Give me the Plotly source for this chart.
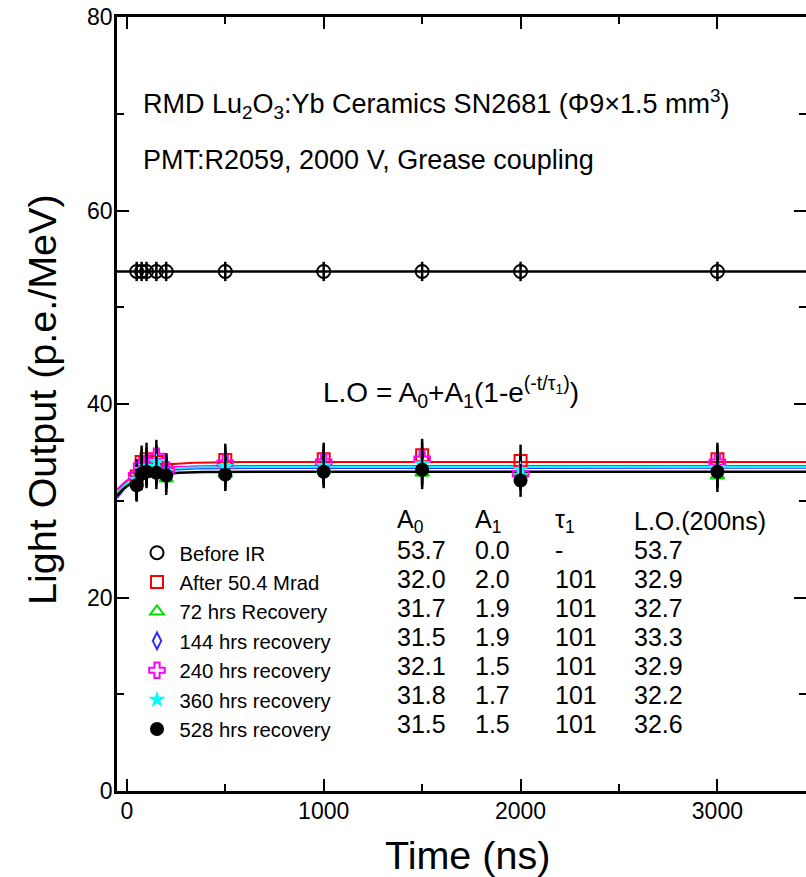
import numpy as np
import plotly.graph_objects as go

# ---------------- data ----------------
time_ns = [50, 75, 100, 150, 200, 500, 1000, 1500, 2000, 3000]

series_names = ["Before IR", "After 50.4 Mrad", "72 hrs Recovery", "144 hrs recovery",
                "240 hrs recovery", "360 hrs recovery", "528 hrs recovery"]

lo_before = [53.7, 53.7, 53.7, 53.7, 53.7, 53.7, 53.7, 53.7, 53.7, 53.7]
lo_after = [32.5, 34.0, 34.3, 34.0, 33.2, 34.2, 34.3, 34.7, 34.1, 34.3]
lo_72 = [31.8, 33.0, 33.2, 33.3, 32.3, 32.8, 33.2, 32.9, 32.8, 32.6]
lo_144 = [31.7, 32.8, 33.3, 33.5, 33.0, 33.2, 33.5, 33.4, 33.0, 33.2]
lo_240 = [32.6, 33.6, 33.8, 34.6, 33.2, 33.9, 34.0, 34.3, 32.8, 34.0]
lo_360 = [32.2, 33.2, 33.5, 34.0, 33.0, 33.5, 33.6, 33.8, 33.2, 33.4]
lo_528 = [31.6, 32.8, 33.0, 32.9, 32.6, 32.7, 33.0, 33.2, 32.1, 33.0]

err_before = 1.0
err_irr = 1.7

# fit parameters as tabulated in the chart
fit_A0 = [53.7, 32.0, 31.7, 31.5, 32.1, 31.8, 31.5]
fit_A1 = [0.0, 2.0, 1.9, 1.9, 1.5, 1.7, 1.5]
fit_tau = [None, 101, 101, 101, 101, 101, 101]
lo_200ns = [53.7, 32.9, 32.7, 33.3, 32.9, 32.2, 32.6]

x_ticks = [0, 1000, 2000, 3000]
y_ticks = [0, 20, 40, 60, 80]

# ---------------- styles ----------------
colors = ["black", "red", "#00e000", "#3030ff", "magenta", "cyan", "black"]
symbols = ["circle-open", "square-open", "triangle-up-open", "diamond-tall-open",
           "cross-open", "star", "circle"]
sizes = [13, 12, 12, 12, 13, 13, 14]
FONT = "Liberation Sans, Arial, Helvetica, sans-serif"

W, H = 806, 877
PL, PT, PB, PR = 117, 17, 791, 806          # plot box in window pixels
L, T, R = PL, PT, 0
B = H - PB
pw, ph = PR - PL, PB - PT


def px_x(p):
    return (p - PL) / pw


def px_y(p):
    return (PB - p) / ph


fig = go.Figure()

all_vals = [lo_before, lo_after, lo_72, lo_144, lo_240, lo_360, lo_528]

# fit curves (from the tabulated fit parameters)
t_fit = np.linspace(-50, 3500, 400)
for i in range(len(series_names)):
    if fit_tau[i] is None:
        yfit = np.full_like(t_fit, fit_A0[i] + fit_A1[i])
    else:
        yfit = fit_A0[i] + fit_A1[i] * (1 - np.exp(-t_fit / fit_tau[i]))
    fig.add_trace(go.Scatter(x=t_fit, y=yfit, mode="lines",
                             line=dict(color=colors[i], width=2.5 if i in (0, 6) else 2),
                             showlegend=False, hoverinfo="skip"))

# data points
for i, name in enumerate(series_names):
    err = err_before if i == 0 else err_irr
    filled = symbols[i] in ("star", "circle")
    fig.add_trace(go.Scatter(
        x=time_ns, y=all_vals[i], mode="markers", name=name,
        marker=dict(symbol=symbols[i], size=sizes[i], color=colors[i],
                    line=dict(color=colors[i], width=2 if not filled else 0)),
        error_y=dict(type="constant", value=err, color="black", thickness=2.5, width=0),
        legendgroup=f"g{i}",
    ))

annotations = []
annotations.append(dict(x=px_x(141), y=px_y(104), xref="paper", yref="paper", xanchor="left",
                        yanchor="middle", showarrow=False,
                        text="RMD Lu<sub>2</sub>O<sub>3</sub>:Yb Ceramics SN2681 (Φ9×1.5 mm<sup>3</sup>)",
                        font=dict(size=27, family=FONT, color="black")))
annotations.append(dict(x=px_x(141), y=px_y(160), xref="paper", yref="paper", xanchor="left",
                        yanchor="middle", showarrow=False,
                        text="PMT:R2059, 2000 V, Grease coupling",
                        font=dict(size=27, family=FONT, color="black")))
annotations.append(dict(x=px_x(321), y=px_y(392), xref="paper", yref="paper", xanchor="left",
                        yanchor="middle", showarrow=False,
                        text="L.O = A<sub>0</sub>+A<sub>1</sub>(1-e<sup>(-t/τ<sub>1</sub>)</sup>)",
                        font=dict(size=28, family=FONT, color="black")))

# table
col_x = [395, 473, 553, 632]
headers = ["A<sub>0</sub>", "A<sub>1</sub>", "τ<sub>1</sub>", "L.O.(200ns)"]
for cx, htxt in zip(col_x, headers):
    annotations.append(dict(x=px_x(cx), y=px_y(521), xref="paper", yref="paper",
                            xanchor="left", yanchor="middle", showarrow=False, text=htxt,
                            font=dict(size=25, family=FONT, color="black")))
for r in range(len(series_names)):
    yy = 550 + r * 29.0
    cells = [f"{fit_A0[r]:.1f}", f"{fit_A1[r]:.1f}",
             "-" if fit_tau[r] is None else f"{fit_tau[r]}", f"{lo_200ns[r]:.1f}"]
    for cx, c in zip(col_x, cells):
        annotations.append(dict(x=px_x(cx), y=px_y(yy), xref="paper", yref="paper",
                                xanchor="left", yanchor="middle", showarrow=False, text=c,
                                font=dict(size=25, family=FONT, color="black")))

# axis titles
annotations.append(dict(x=px_x(467), y=px_y(855), xref="paper", yref="paper",
                        xanchor="center", yanchor="middle", showarrow=False, text="Time (ns)",
                        font=dict(size=39.5, family=FONT, color="black")))
annotations.append(dict(x=px_x(42), y=px_y(400), xref="paper", yref="paper",
                        xanchor="center", yanchor="middle", showarrow=False,
                        text="Light Output (p.e./MeV)", textangle=-90,
                        font=dict(size=39.5, family=FONT, color="black")))

axis_common = dict(showline=True, linecolor="black", linewidth=2.5, mirror="ticks",
                   ticks="inside", ticklen=12, tickwidth=2, tickcolor="black",
                   showgrid=False, zeroline=False, ticklabeloverflow="allow",
                   automargin=False,
                   tickfont=dict(size=23, family=FONT, color="black"))

fig.update_layout(
    width=W, height=H,
    margin=dict(l=L, r=R, t=T, b=B, pad=0, autoexpand=False),
    paper_bgcolor="white", plot_bgcolor="white",
    xaxis=dict(range=[-50, 3450], tickvals=x_ticks, ticklabelstandoff=-2,
               minor=dict(dtick=500, tick0=0, ticks="inside", ticklen=7, tickwidth=2, tickcolor="black"),
               **axis_common),
    yaxis=dict(range=[0, 80], tickvals=y_ticks, ticklabelstandoff=-3,
               minor=dict(dtick=10, tick0=0, ticks="inside", ticklen=7, tickwidth=2, tickcolor="black"),
               **axis_common),
    legend=dict(x=px_x(134.5), y=px_y(533), xanchor="left", yanchor="top",
                bgcolor="rgba(0,0,0,0)", borderwidth=0, itemwidth=35,
                font=dict(size=20.3, family=FONT, color="black"),
                tracegroupgap=0, itemsizing="trace"),
    annotations=annotations,
    showlegend=True,
)

# remove the browser's default 8px body margin so the figure sits at the window origin
fig.write_html("out.html",
               config={"displayModeBar": False},
               post_script="document.body.style.margin='0';document.body.style.overflow='hidden';")
